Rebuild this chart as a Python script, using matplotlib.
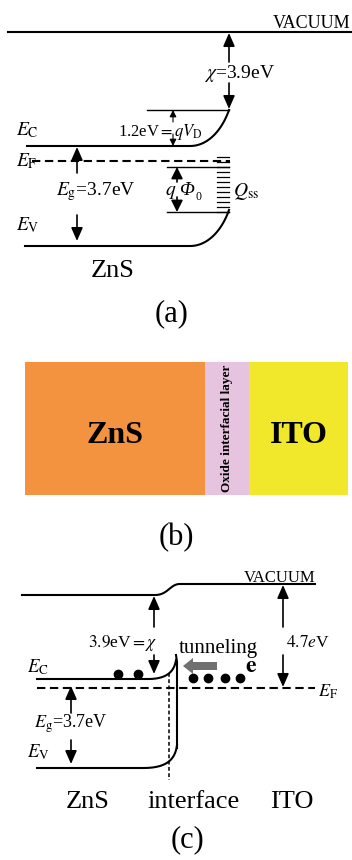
import numpy as np
import matplotlib
matplotlib.use("Agg")
import matplotlib.pyplot as plt
from matplotlib.patches import Rectangle, FancyArrow

plt.rcParams["font.family"] = ["Liberation Serif", "DejaVu Serif"]
plt.rcParams["mathtext.fontset"] = "stix"

# Energies (eV) written on the diagrams
chi = 3.9          # electron affinity of ZnS
eg = 3.7           # band gap of ZnS
qvd = 1.2          # band bending qV_D
phi_ito = 4.7      # work function of ITO

# Layer stack of panel (b)
layers = ["ZnS", "Oxide interfacial layer", "ITO"]
layer_colors = ["#F4933F", "#E6C4DF", "#F1E72B"]
layer_edges = [25, 205, 249, 348]

# Panel (c) region labels
regions = ["ZnS", "interface", "ITO"]
region_x = [88, 194, 292]

fig = plt.figure(figsize=(3.52, 8.6), dpi=100)
ax = fig.add_axes([0, 0, 1, 1])
ax.set_xlim(0, 352)
ax.set_ylim(860, 0)
ax.axis("off")

LW = 1.5
DASH = (0, (4.0, 2.2))


def bez(p0, p1, p2, p3, n=60):
    t = np.linspace(0, 1, n)[:, None]
    p = ((1 - t) ** 3 * np.array(p0) + 3 * (1 - t) ** 2 * t * np.array(p1)
         + 3 * (1 - t) * t ** 2 * np.array(p2) + t ** 3 * np.array(p3))
    return p[:, 0], p[:, 1]


def arrow(x, y0, y1, lw=1.2, hl=8, hw=7):
    """Vertical arrow from y0 to a filled tip at y1."""
    ax.annotate("", xy=(x, y1), xytext=(x, y0),
                arrowprops=dict(arrowstyle=f"-|>,head_length={hl/10:.2f},head_width={hw/20:.2f}",
                                lw=lw, color="k", shrinkA=0, shrinkB=0,
                                mutation_scale=10))


def txt(x, y, s, size, ha="left", va="baseline", **kw):
    ax.text(x, y, s, fontsize=size, ha=ha, va=va, color="k", **kw)


# ---------------- panel (a) ----------------
ax.plot([8, 352], [32, 32], color="k", lw=LW)
txt(350, 28, "VACUUM", 13, ha="right")

# conduction band with upward bending
xc, yc = bez((190, 146), (208, 146), (222, 130), (229, 110))
ax.plot(np.r_[27, xc], np.r_[146, yc], color="k", lw=LW)
ax.plot([147, 229], [110, 110], color="k", lw=1.0)
# valence band
xv, yv = bez((190, 246), (208, 246), (222, 230), (229, 210))
ax.plot(np.r_[25, xv], np.r_[246, yv], color="k", lw=LW)
# Fermi level
ax.plot([32, 230], [161, 161], color="k", lw=LW, ls=DASH)
ax.plot([167, 229], [167, 167], color="k", lw=1.0)
ax.plot([167, 229], [212, 212], color="k", lw=1.0)

# surface states
for ys in np.arange(157, 213, 5):
    ax.plot([217, 229], [ys, ys], color="k", lw=0.9)

# chi arrow
arrow(229, 62, 33)
arrow(229, 83, 109)
txt(204, 78, rf"$\chi$={chi}eV", 14)

# qV_D arrow
arrow(173, 122, 110, lw=0.8, hl=4, hw=4)
arrow(173, 134, 146, lw=0.8, hl=4, hw=4)
txt(118, 136, rf"{qvd}eV$=qV_{{\mathrm{{D}}}}$", 12)

# q Phi_0 arrow
arrow(177, 182, 167, hl=7, hw=7)
arrow(177, 197, 212, hl=7, hw=7)
txt(176, 195, r"$q$", 14, ha="right")
txt(179, 195, "Φ", 14, style="italic")
txt(196, 200, "0", 8.5)
txt(233, 196, r"$Q_{\mathrm{ss}}$", 14)

# band gap arrow
arrow(77, 173, 147)
arrow(77, 215, 241)
txt(56, 195, rf"$E_{{\mathrm{{g}}}}$={eg}eV", 14)

txt(16, 135, r"$E_{\mathrm{C}}$", 14)
txt(16, 166, r"$E_{\mathrm{F}}$", 14)
txt(16, 230, r"$E_{\mathrm{V}}$", 14)
txt(113, 277, "ZnS", 19, ha="center")
txt(172, 314, "(a)", 22, ha="center", va="center")

# ---------------- panel (b) ----------------
for i, (name, col) in enumerate(zip(layers, layer_colors)):
    x0, x1 = layer_edges[i], layer_edges[i + 1]
    ax.add_patch(Rectangle((x0, 362), x1 - x0, 133, facecolor=col, edgecolor="none"))
    xm = (x0 + x1) / 2
    if i == 1:
        ax.text(xm, 428, name, fontsize=9.5, fontweight="bold", rotation=90,
                ha="center", va="center")
    else:
        txt(xm, 443, name, 23, ha="center", fontweight="bold")
txt(176, 538, "(b)", 22, ha="center", va="center")

# ---------------- panel (c) ----------------
xvac, yvac = bez((155, 595), (168, 595), (170, 584), (180, 584))
ax.plot(np.r_[22, xvac, 315], np.r_[595, yvac, 584], color="k", lw=LW)
txt(315, 582, "VACUUM", 12, ha="right")

xc2, yc2 = bez((148, 679), (165, 679), (174, 673), (176, 660))
ax.plot(np.r_[37, xc2], np.r_[679, yc2], color="k", lw=LW)
ax.plot([176, 177, 177], [655, 662, 748], color="k", lw=LW)
xv2, yv2 = bez((143, 768), (165, 768), (175, 761), (177, 745))
ax.plot(np.r_[37, xv2], np.r_[768, yv2], color="k", lw=LW)

ax.plot([37, 315], [688, 688], color="k", lw=LW, ls=DASH)
ax.plot([169, 169], [673, 780], color="k", lw=1.1, ls=(0, (2.5, 1.6)))
txt(318, 697, r"$E_{\mathrm{F}}$", 13)

# electrons
ax.scatter([118, 138], [674, 674], s=36, color="k", zorder=3)
ax.scatter([193, 208, 225, 240], [678, 678, 678, 678], s=36, color="k", zorder=3)
ax.add_patch(FancyArrow(217, 666, -24, 0, width=8, head_width=16, head_length=10,
                        length_includes_head=False, color="#707070", lw=0))
txt(251, 672, r"$\mathbf{e}$", 17, ha="center")
txt(218, 653, "tunneling", 15, ha="center")

# chi arrow
arrow(154, 627, 596)
arrow(154, 655, 674)
txt(158, 647, rf"$\mathit{{{chi}}}$eV$=\chi$", 12.5, ha="right")

# ITO work function
arrow(283, 627, 585)
arrow(283, 655, 687)
txt(286, 647, rf"$\mathit{{{phi_ito}e}}$V", 12.5)

# band gap arrow
arrow(71, 713, 686)
arrow(71, 740, 764)
txt(71, 728, rf"$E_{{\mathrm{{g}}}}$={eg}eV", 13, ha="center")
txt(27, 672, r"$E_{\mathrm{C}}$", 13.5)
txt(27, 757, r"$E_{\mathrm{V}}$", 13.5)

for name, x in zip(regions, region_x):
    txt(x, 808, name, 19, ha="center")
txt(187, 840, "(c)", 22, ha="center", va="center")

fig.savefig("out.png", dpi=100)
